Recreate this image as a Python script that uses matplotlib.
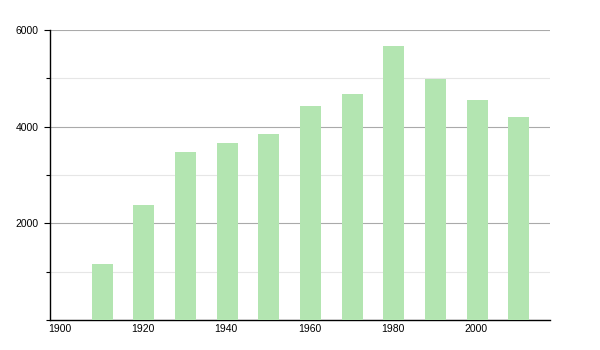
import matplotlib
matplotlib.use('Agg')
import matplotlib.pyplot as plt
import matplotlib.transforms as mtransforms
from matplotlib.ticker import MultipleLocator

years = [1910, 1920, 1930, 1940, 1950, 1960, 1970, 1980, 1990, 2000, 2010]
values = [1150, 2370, 3480, 3670, 3850, 4430, 4680, 5670, 4980, 4550, 4190]
xticks = [1900, 1920, 1940, 1960, 1980, 2000]
yticks = [2000, 4000, 6000]

plt.rcParams['font.family'] = ['Liberation Sans', 'DejaVu Sans']

fig = plt.figure(figsize=(6, 3.5), dpi=100)
ax = fig.add_axes([50/600, 30/350, 500/600, 290/350])

ax.bar(years, values, width=5, align='edge', color='#b3e5b1', zorder=3)

ax.set_xlim(1900, 2020)
ax.set_ylim(0, 6000)

ax.set_yticks(yticks)
ax.yaxis.set_minor_locator(MultipleLocator(1000))
ax.grid(axis='y', which='major', color='#aaaaaa', linewidth=0.8, zorder=0)
ax.grid(axis='y', which='minor', color='#e6e6e6', linewidth=0.8, zorder=0)

ax.set_xticks(xticks)
ax.set_xticklabels([str(x) for x in xticks], ha='left')
ax.tick_params(axis='x', length=0, pad=3, labelsize=7.5)
ax.tick_params(axis='y', which='major', length=4, width=0.8, labelsize=7.5, pad=4)
ax.tick_params(axis='y', which='minor', length=3, width=0.8)

# nudge x labels a bit left, like the original
shift = mtransforms.ScaledTranslation(-2/100, 0, fig.dpi_scale_trans)
for lbl in ax.get_xticklabels():
    lbl.set_transform(lbl.get_transform() + shift)

for s in ['top', 'right']:
    ax.spines[s].set_visible(False)
ax.spines['left'].set_linewidth(1)
ax.spines['bottom'].set_linewidth(1)

fig.savefig('out.png', dpi=100)
